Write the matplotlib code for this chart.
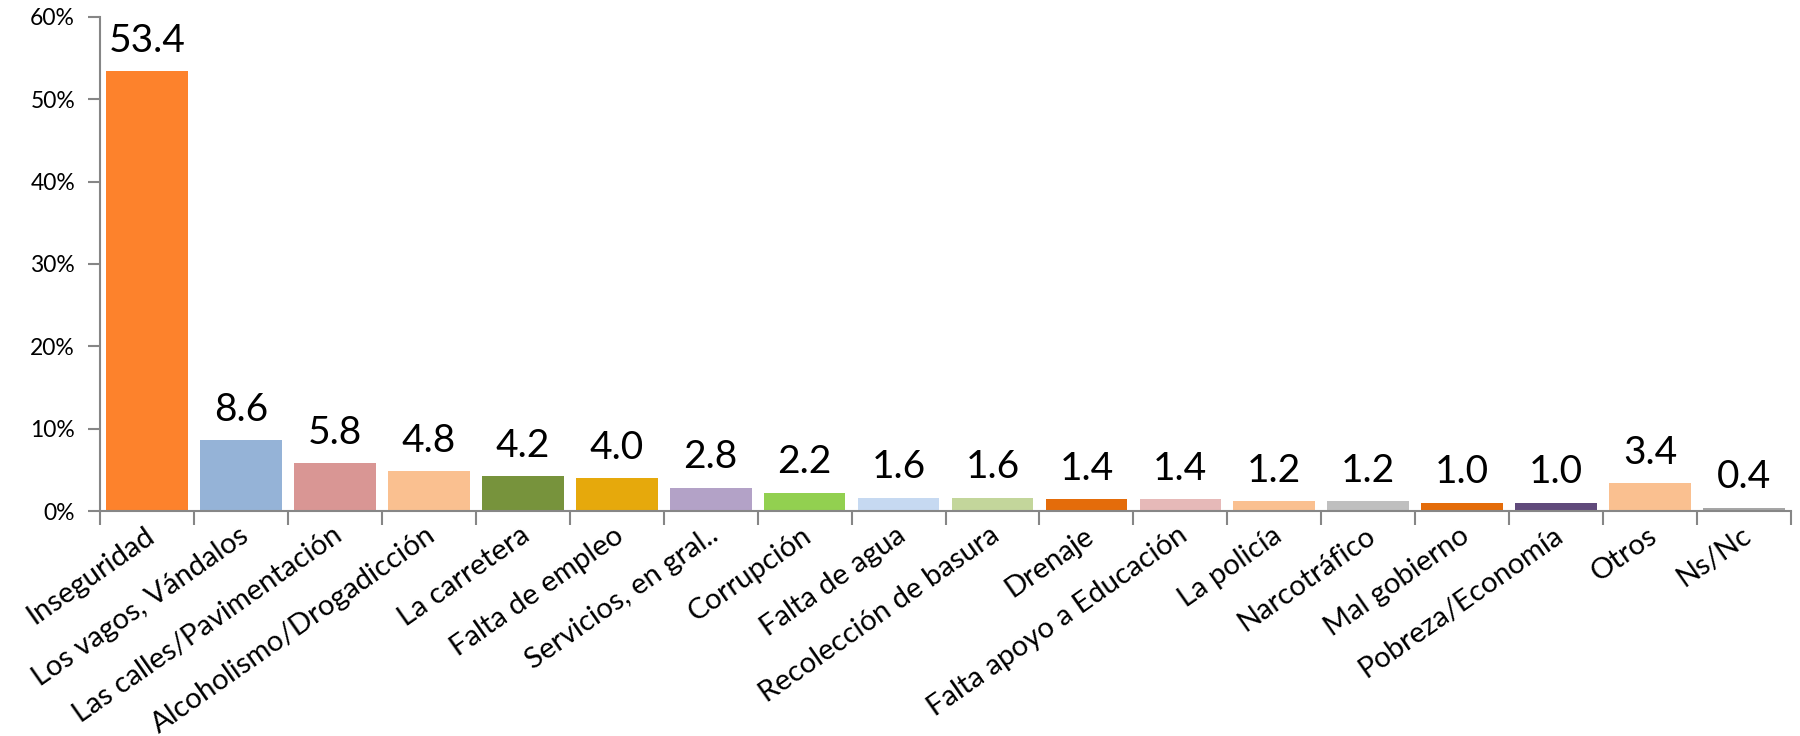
import matplotlib
matplotlib.use("Agg")
import matplotlib.pyplot as plt
import matplotlib.transforms as mtransforms
import numpy as np

plt.rcParams["font.family"] = ["Lato", "DejaVu Sans"]

categories = [
    "Inseguridad", "Los vagos, Vándalos", "Las calles/Pavimentación",
    "Alcoholismo/Drogadicción", "La carretera", "Falta de empleo",
    "Servicios, en gral..", "Corrupción", "Falta de agua",
    "Recolección de basura", "Drenaje", "Falta apoyo a Educación",
    "La policía", "Narcotráfico", "Mal gobierno", "Pobreza/Economía",
    "Otros", "Ns/Nc",
]
values = [53.4, 8.6, 5.8, 4.8, 4.2, 4.0, 2.8, 2.2, 1.6, 1.6, 1.4, 1.4,
          1.2, 1.2, 1.0, 1.0, 3.4, 0.4]
colors = [
    "#FD822C", "#95B3D7", "#D99694", "#FAC090", "#77933C", "#E6A90C",
    "#B3A2C7", "#92D050", "#C6D9F1", "#C3D69B", "#E46C0A", "#E6B9B8",
    "#FAC090", "#BFBFBF", "#E46C0A", "#604A7B", "#FAC090", "#A6A6A6",
]
y_ticks = [0, 10, 20, 30, 40, 50, 60]

axis_gray = "#868686"

fig = plt.figure(figsize=(18, 7.36), dpi=100)
ax = fig.add_axes([0.0556, 0.3057, 0.995 - 0.0556, 0.977 - 0.3057])

x = np.arange(len(categories))
ax.bar(x, values, width=0.87, color=colors)

# value labels above bars
for xi, v in zip(x, values):
    ax.annotate(f"{v:.1f}", (xi, v), xytext=(0, 9), textcoords="offset points",
                ha="center", va="bottom", fontsize=28, color="black")

ax.set_xlim(-0.5, len(categories) - 0.5)
ax.set_ylim(0, 60)
ax.set_yticks(y_ticks)
ax.set_yticklabels([f"{t}%" for t in y_ticks], fontsize=16.5)

# category labels at centers, tick marks at boundaries
ax.set_xticks(x)
ax.set_xticklabels(categories, fontsize=21, rotation=35, ha="right",
                   rotation_mode="anchor")
ax.set_xticks(np.arange(-0.5, len(categories), 1), minor=True)
ax.tick_params(axis="x", which="major", length=0, pad=8)
ax.tick_params(axis="x", which="minor", length=10, width=1.5, color=axis_gray)
ax.tick_params(axis="y", length=9, width=1.5, color=axis_gray, pad=9)

offset = mtransforms.ScaledTranslation(-3 / 100, 0, fig.dpi_scale_trans)
for lab in ax.get_xticklabels():
    lab.set_transform(lab.get_transform() + offset)

for side in ["top", "right"]:
    ax.spines[side].set_visible(False)
for side in ["left", "bottom"]:
    ax.spines[side].set_color(axis_gray)
    ax.spines[side].set_linewidth(1.5)

fig.savefig("out.png", dpi=100)
plt.close(fig)
